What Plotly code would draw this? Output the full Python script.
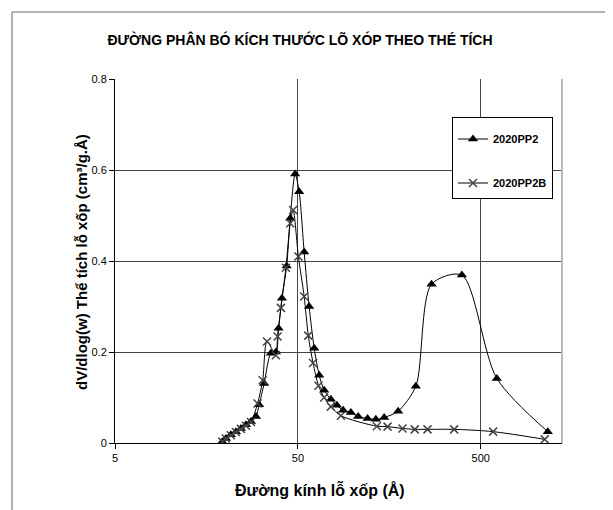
import plotly.graph_objects as go
import math

# 2020PP2 (triangles)
pp2_x = [19.3, 20.2, 21.5, 22.9, 24.4, 26.0, 27.7, 29.5, 30.7, 32.7, 35.6, 37.9, 39.2, 40.9,
         43.4, 45.4, 48.3, 50.8, 54.1, 57.6, 61.4, 65.4, 69.6, 75.7, 81.7, 88.4, 97.4, 106.8,
         120.2, 133.4, 148.1, 176.6, 220.7, 269, 394, 612, 1162]
pp2_y = [0.003, 0.010, 0.018, 0.025, 0.032, 0.040, 0.047, 0.058, 0.084, 0.131, 0.197, 0.200,
         0.252, 0.318, 0.389, 0.494, 0.591, 0.552, 0.420, 0.300, 0.208, 0.149, 0.116, 0.096,
         0.083, 0.072, 0.067, 0.058, 0.054, 0.052, 0.056, 0.070, 0.125, 0.349, 0.369, 0.142, 0.025]

# 2020PP2B (crosses)
pp2b_x = [19.3, 20.2, 21.5, 22.9, 24.4, 26.0, 27.7, 30.1, 32.1, 33.9, 37.9, 38.7, 40.4, 43.0,
          45.4, 47.1, 50.3, 54.1, 57.0, 60.5, 64.8, 69.6, 75.7, 85.9, 135.1, 154.6, 186.6,
          217.8, 255.6, 357.6, 584, 1118]
pp2b_y = [0.003, 0.010, 0.017, 0.024, 0.031, 0.038, 0.046, 0.087, 0.138, 0.223, 0.193, 0.234,
          0.297, 0.385, 0.483, 0.512, 0.410, 0.322, 0.236, 0.176, 0.126, 0.100, 0.080, 0.060,
          0.037, 0.036, 0.032, 0.030, 0.030, 0.030, 0.025, 0.008]

x_ticks = [5, 50, 500]
y_ticks = [0, 0.2, 0.4, 0.6, 0.8]

FONT = "Liberation Sans, Arial, sans-serif"

fig = go.Figure()
fig.add_trace(go.Scatter(
    x=pp2_x, y=pp2_y, name="<b>2020PP2</b>", mode="lines+markers",
    legendgroup="a",
    line=dict(color="black", width=1, shape="spline", smoothing=0.8),
    marker=dict(symbol="triangle-up", size=9, color="black"),
))
fig.add_trace(go.Scatter(
    x=pp2b_x, y=pp2b_y, name="<b>2020PP2B</b>", mode="lines+markers",
    legendgroup="b",
    line=dict(color="black", width=1, shape="spline", smoothing=0.8),
    marker=dict(symbol="x-thin", size=8, line=dict(color="#444", width=1.5)),
))

# page has an 8px body margin; work in figure coordinates
OFF = 8
W, H = 613 - OFF, 510 - OFF
L, R, T, B = 115 - OFF, 562 - OFF, 79 - OFF, 443 - OFF
pw, ph = R - L, B - T

def px(x):
    return (x - OFF - L) / pw

def py(y):
    return (B - (y - OFF)) / ph

fig.update_layout(
    width=W, height=H,
    margin=dict(l=L, r=W - R, t=T, b=H - B),
    paper_bgcolor="white", plot_bgcolor="white",
    font=dict(family=FONT, size=11, color="black"),
    title=dict(text="<b>ĐƯỜNG PHÂN BÓ KÍCH THƯỚC LÕ XÓP THEO THÉ TÍCH</b>",
               font=dict(size=14, family=FONT), x=(300 - OFF) / W, xanchor="center",
               y=1 - (40 - OFF) / H, yanchor="middle"),
    showlegend=True,
    legend=dict(x=px(452), y=py(117), xanchor="left", yanchor="top",
                bordercolor="black", borderwidth=1, bgcolor="white",
                font=dict(size=11, family=FONT), tracegroupgap=25,
                traceorder="grouped",
                title=dict(text=" ", font=dict(size=5))),
    xaxis=dict(type="log", range=[math.log10(5), 3.143],
               tickvals=x_ticks, ticktext=[str(v) for v in x_ticks],
               showgrid=True, gridcolor="#444", gridwidth=1,
               showline=True, linecolor="black", linewidth=1,
               ticks="outside", ticklen=5, tickcolor="black",
               zeroline=False),
    yaxis=dict(range=[0, 0.8], tickvals=y_ticks, ticktext=["0", "0.2", "0.4", "0.6", "0.8"],
               showgrid=True, gridcolor="#444", gridwidth=1,
               showline=True, linecolor="black", linewidth=1,
               ticks="outside", ticklen=5, tickcolor="black",
               zeroline=False),
    annotations=[
        dict(text="<b>Đường kính lỗ xốp (Å)</b>", xref="paper", yref="paper",
             x=px(320), y=py(490), xanchor="center", yanchor="middle",
             showarrow=False, font=dict(size=16, family=FONT)),
        dict(text="<b>dV/dlog(w) Thể tích lỗ xốp (cm³/g.Å)</b>", xref="paper", yref="paper",
             x=px(81), y=py(262), xanchor="center", yanchor="middle", textangle=-90,
             showarrow=False, font=dict(size=15, family=FONT)),
    ],
    shapes=[
        dict(type="line", xref="paper", yref="paper", x0=1, x1=1, y0=0, y1=1,
             line=dict(color="#bbb", width=2)),
        dict(type="line", xref="paper", yref="paper",
             x0=px(12), x1=px(607), y0=py(12), y1=py(12),
             line=dict(color="#666", width=1)),
        dict(type="line", xref="paper", yref="paper",
             x0=px(12), x1=px(12), y0=py(12), y1=py(515),
             line=dict(color="#666", width=1)),
    ],
)

fig.write_html("out.html")
